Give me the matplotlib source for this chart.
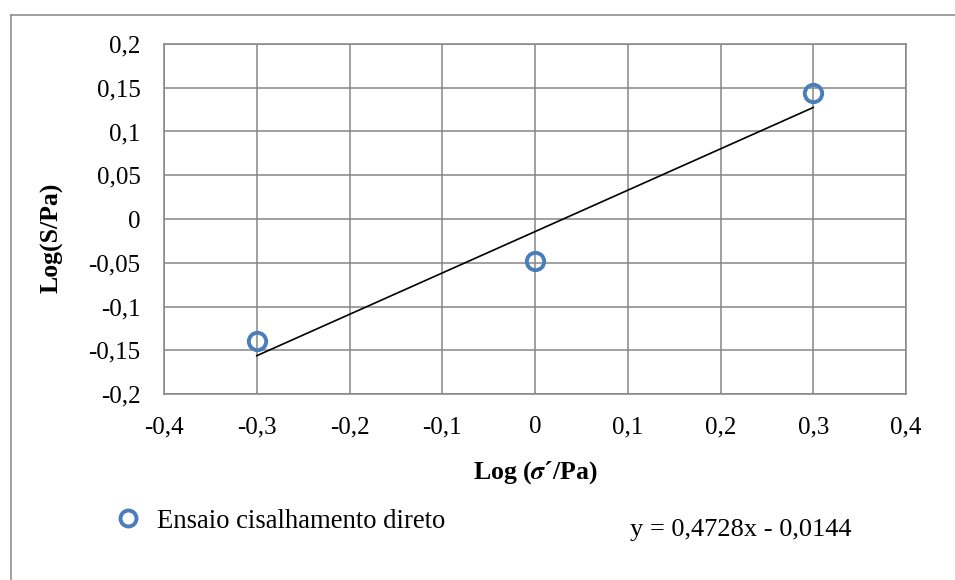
import numpy as np
import matplotlib.pyplot as plt
from matplotlib.lines import Line2D
from matplotlib.ticker import FuncFormatter, MultipleLocator

# dados do ensaio de cisalhamento direto
log_sigma = [-0.3, 0.0, 0.3]
log_s = [-0.1397, -0.0475, 0.1440]
series_label = "Ensaio cisalhamento direto"
x_label = "Log ($\\boldsymbol{\\sigma}$´/Pa)"
y_label = "Log(S/Pa)"

plt.rcParams['font.family'] = ['Liberation Serif', 'DejaVu Serif']
plt.rcParams['mathtext.fontset'] = 'stix'

W, H = 955, 580
fig = plt.figure(figsize=(W / 100, H / 100), dpi=100)
ax = fig.add_axes([164 / W, 1 - 394 / H, (906 - 164) / W, (394 - 44) / H])

grid_col = '#868686'
blue = '#4A7EBB'

# linha de tendência (ajuste linear)
slope, intercept = np.polyfit(log_sigma, log_s, 1)
xs = np.array([min(log_sigma), max(log_sigma)])
ax.plot(xs, slope * xs + intercept, color='black', lw=1.2, zorder=3)

ax.plot(log_sigma, log_s, linestyle='none', marker='o', ms=12.5,
        mfc='none', mec=blue, mew=2.8, zorder=4, clip_on=False)

ax.set_xlim(-0.4, 0.4)
ax.set_ylim(-0.2, 0.2)
ax.xaxis.set_major_locator(MultipleLocator(0.1))
ax.yaxis.set_major_locator(MultipleLocator(0.05))


def fmt(v, pos):
    v = round(v, 4)
    if abs(v) < 1e-9:
        return "0"
    return f"{v:g}".replace('.', ',')


ax.xaxis.set_major_formatter(FuncFormatter(fmt))
ax.yaxis.set_major_formatter(FuncFormatter(fmt))
ax.tick_params(length=0, labelsize=18)
ax.tick_params(axis='x', pad=16)
ax.tick_params(axis='y', pad=17)
ax.grid(True, color=grid_col, lw=1.1)
ax.set_axisbelow(True)
for s in ax.spines.values():
    s.set_color(grid_col)
    s.set_linewidth(1.1)

fig.text(535 / W, 1 - 473 / H, x_label, ha='center', va='center',
         fontsize=18.5, fontweight='bold')
fig.text(52 / W, 1 - 238 / H, y_label, ha='center', va='center',
         fontsize=18.5, fontweight='bold', rotation=90)

# legenda e equação
handle = Line2D([], [], linestyle='none', marker='o', ms=11.5, mfc='none',
                mec=blue, mew=2.8)
fig.legend([handle], [series_label], loc='center left',
           bbox_to_anchor=(118 / W, 1 - 521 / H), frameon=False,
           handlelength=0.75, handletextpad=0.7, borderpad=0, borderaxespad=0,
           prop={'size': 19.2})
fig.text(630 / W, 1 - 530 / H, f"y = {slope:.4f}x - {abs(intercept):.4f}".replace('.', ','),
         ha='left', va='center', fontsize=19)

# moldura externa
fig.add_artist(Line2D([11 / W, 1.0], [1 - 15 / H, 1 - 15 / H], color=grid_col, lw=1.1,
                      transform=fig.transFigure))
fig.add_artist(Line2D([11 / W, 11 / W], [1 - 15 / H, 0.0], color=grid_col, lw=1.1,
                      transform=fig.transFigure))

fig.savefig('out.png', dpi=100)
